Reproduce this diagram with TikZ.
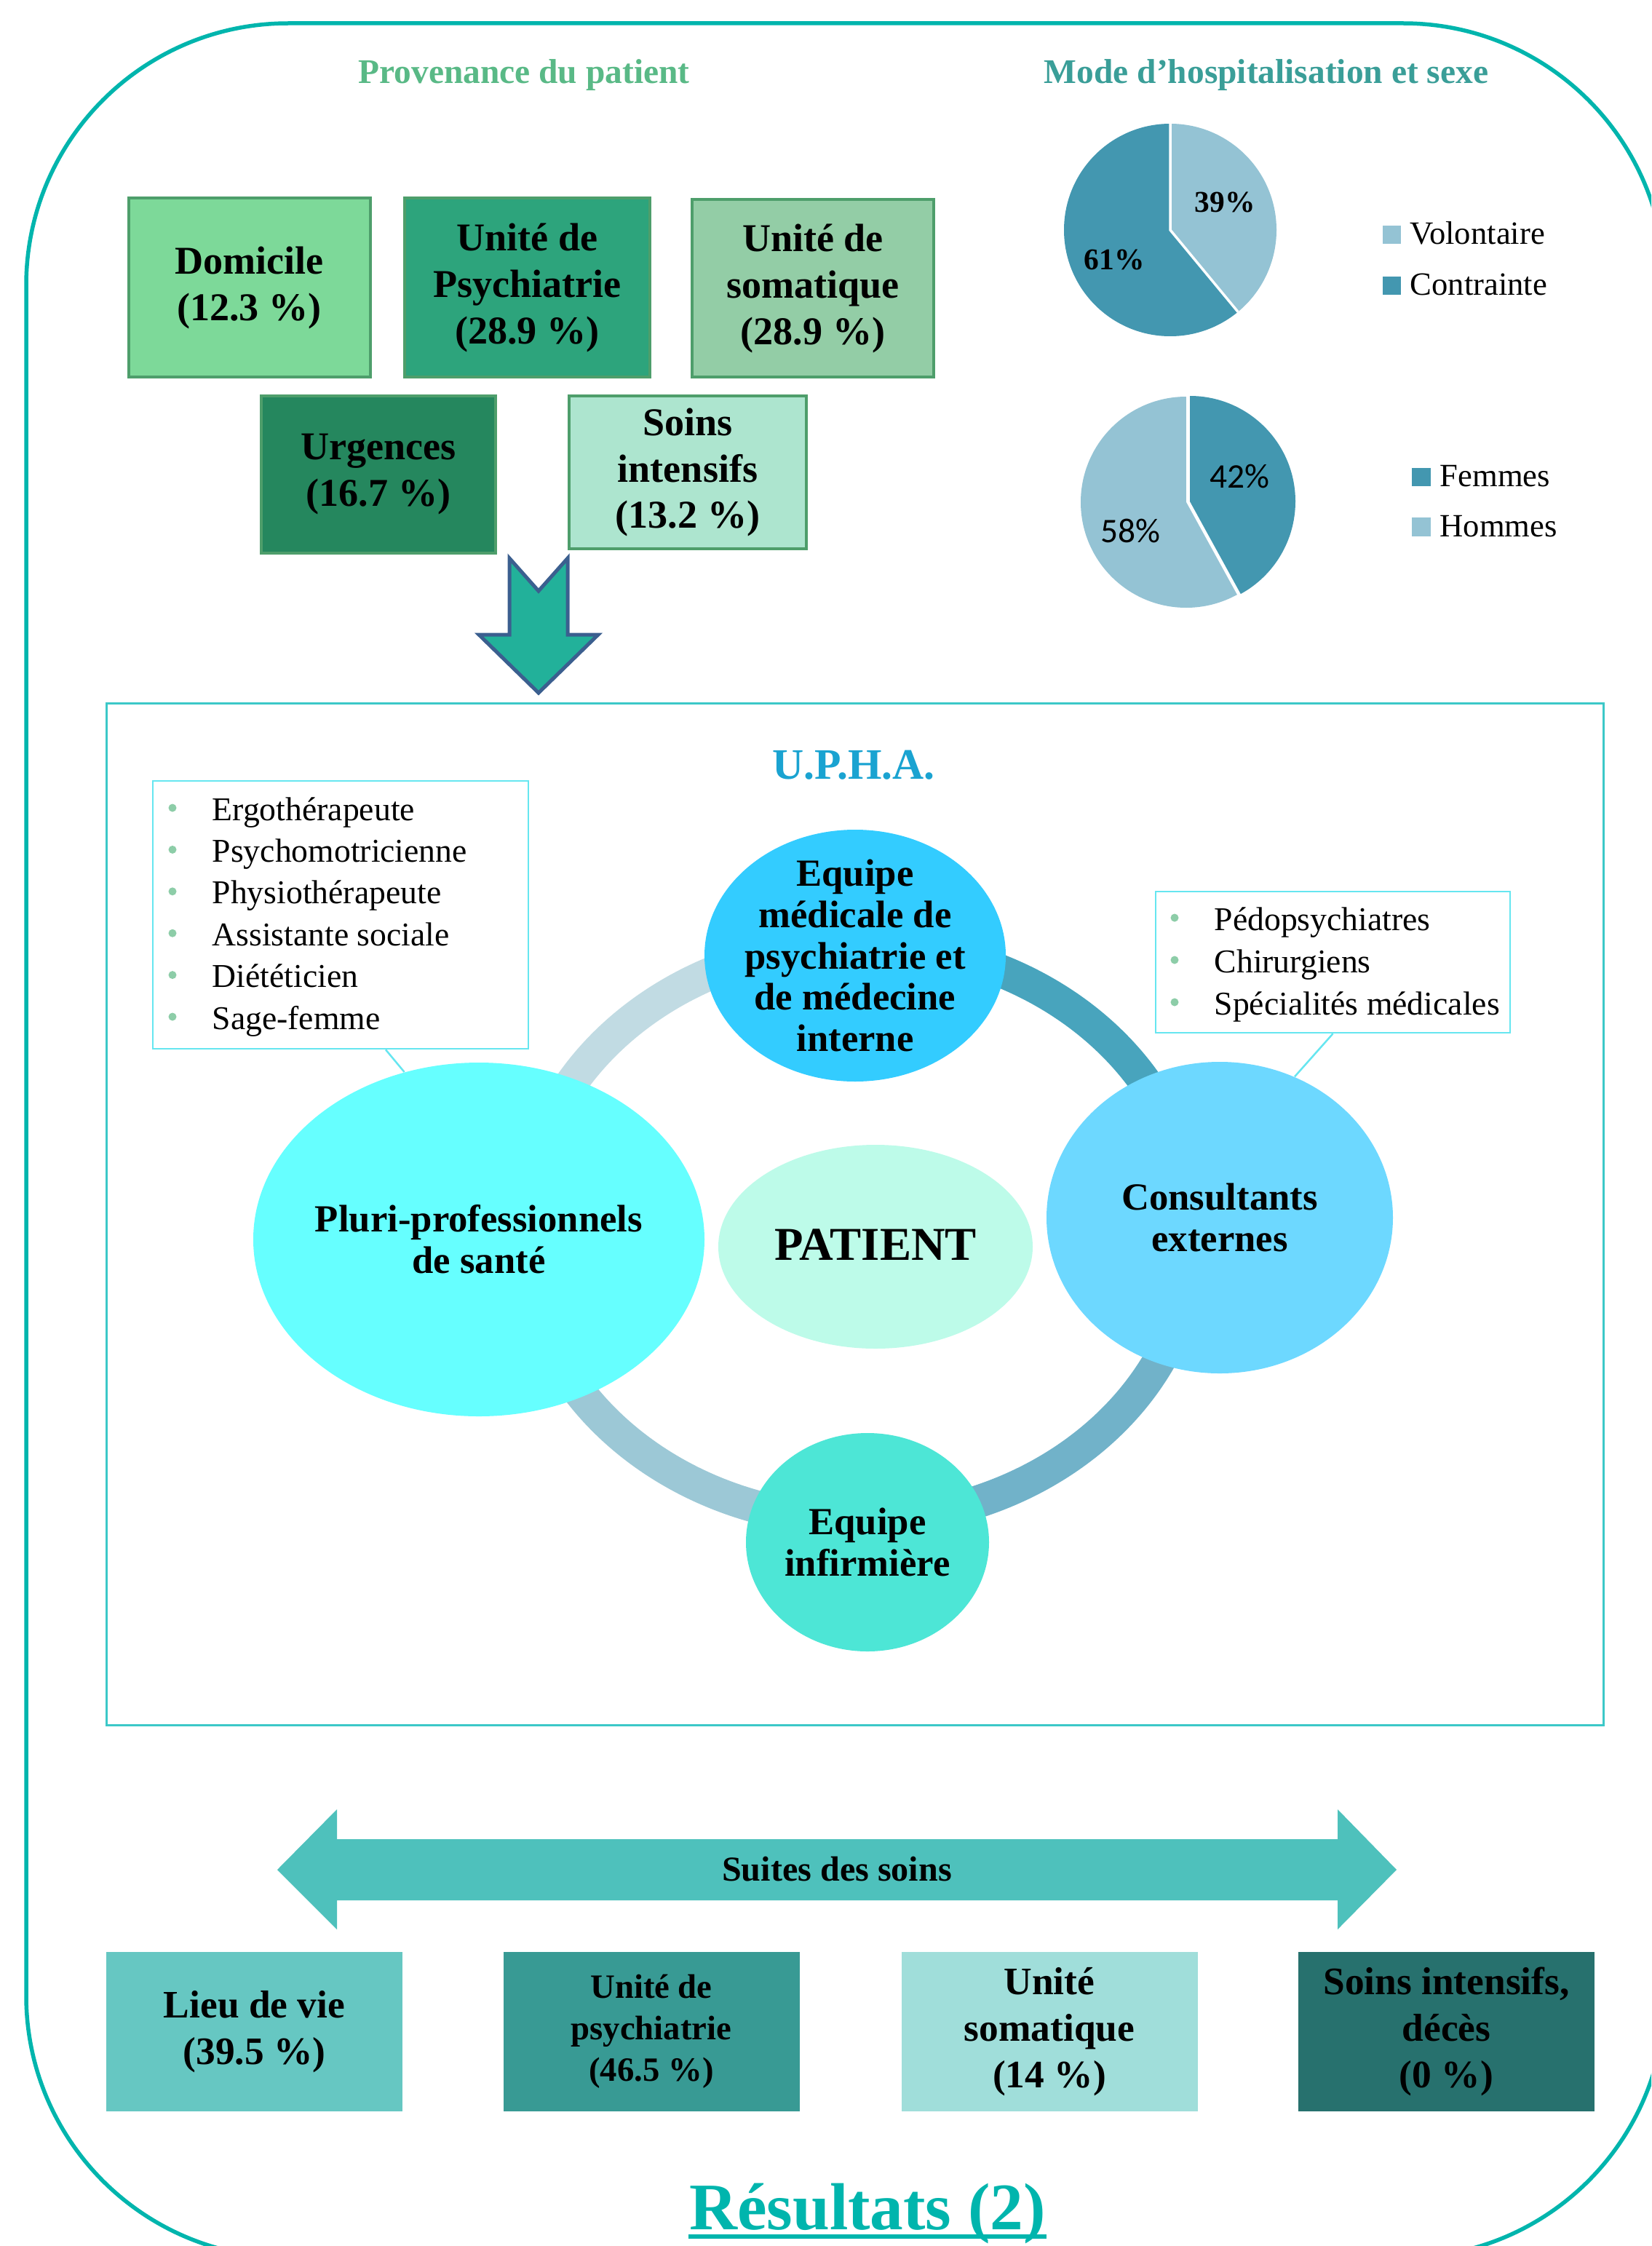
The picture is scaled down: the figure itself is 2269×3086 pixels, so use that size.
\documentclass[tikz,border=0pt]{standalone}
\usepackage{fontspec}
\setmainfont{Liberation Serif}
\newfontfamily\calfont{Carlito}
\usetikzlibrary{shapes.geometric}
\definecolor{framec}{HTML}{00B5AD}
\definecolor{titleG}{HTML}{59B986}
\definecolor{titleT}{HTML}{3A9E98}
\definecolor{srcborder}{HTML}{4E9E6B}
\definecolor{cDom}{HTML}{7DD999}
\definecolor{cPsy}{HTML}{2DA47C}
\definecolor{cSom}{HTML}{93CDA6}
\definecolor{cUrg}{HTML}{25875E}
\definecolor{cSoi}{HTML}{ADE5CF}
\definecolor{arrowfill}{HTML}{22B19A}
\definecolor{arrowborder}{HTML}{3B5F8F}
\definecolor{pieL}{HTML}{94C3D4}
\definecolor{pieD}{HTML}{4397B0}
\definecolor{uphaborder}{HTML}{3CC8C8}
\definecolor{uphatext}{HTML}{1AA3D1}
\definecolor{calloutc}{HTML}{66E6F0}
\definecolor{bulc}{HTML}{8DCDA8}
\definecolor{ringA}{HTML}{C1DBE3}
\definecolor{ringB}{HTML}{48A4BD}
\definecolor{ringC}{HTML}{71B2C9}
\definecolor{ringD}{HTML}{9CC8D6}
\definecolor{eTop}{HTML}{33CCFF}
\definecolor{eLeft}{HTML}{66FFFF}
\definecolor{eRight}{HTML}{6DD8FF}
\definecolor{eBot}{HTML}{4DE6D6}
\definecolor{ePat}{HTML}{BDFBE9}
\definecolor{darrow}{HTML}{4EC1BC}
\definecolor{oA}{HTML}{66C7C2}
\definecolor{oB}{HTML}{389A94}
\definecolor{oC}{HTML}{A0DEDA}
\definecolor{oD}{HTML}{27716E}
\begin{document}
\begin{tikzpicture}[x=0.1mm, y=0.1mm,
  srcbox/.style={draw=srcborder, line width=0.4mm, inner sep=0pt, align=center,
    font=\fontsize{15.4pt}{18.2pt}\selectfont\bfseries},
  outbox/.style={inner sep=0pt, align=center, minimum width=40.7mm, minimum height=21.9mm,
    font=\fontsize{15.2pt}{18.2pt}\selectfont\bfseries},
  blob/.style={ellipse, inner sep=0pt},
  etext/.style={align=center, inner sep=0pt, font=\fontsize{15pt}{16.2pt}\selectfont\bfseries},
  listbox/.style={draw=calloutc, line width=0.25mm, inner sep=0pt},
  litem/.style={anchor=base west, inner sep=0pt, font=\fontsize{13pt}{15pt}\selectfont},
  legtext/.style={anchor=base west, inner sep=0pt, font=\fontsize{12.7pt}{15pt}\selectfont},
  pielab/.style={anchor=base, inner sep=0pt, font=\fontsize{11.8pt}{14pt}\selectfont\bfseries},
  pielabs/.style={anchor=base, inner sep=0pt, font=\calfont\fontsize{13.5pt}{16pt}\selectfont},
  ringseg/.style={line width=4.5mm},
  title/.style={anchor=base, inner sep=0pt, font=\fontsize{13.5pt}{16pt}\selectfont\bfseries},
]
\useasboundingbox (0,0) rectangle (2269,-3086);
\clip (0,0) rectangle (2269,-3086);
\fill[white] (0,0) rectangle (2269,-3086);

% outer frame
\draw[framec, line width=0.55mm, rounded corners=36mm] (36,-32) rectangle (2288,-3102);

% titles
\node[title, text=titleG] (t1) at (720,-115) {Provenance du patient};
\node[title, text=titleT] (t2) at (1740,-115) {Mode d’hospitalisation et sexe};

% source boxes
\node[srcbox, fill=cDom, minimum width=33.2mm, minimum height=24.6mm] (dom) at (342.5,-395) {Domicile\\(12.3 \%)};
\node[srcbox, fill=cPsy, minimum width=33.7mm, minimum height=24.6mm] (psy) at (724.5,-395) {Unité de\\Psychiatrie\\(28.9 \%)};
\node[srcbox, fill=cSom, minimum width=33.2mm, minimum height=24.4mm] (som) at (1117,-396) {Unité de\\somatique\\(28.9 \%)};
\node[srcbox, fill=cUrg, minimum width=32.2mm, minimum height=21.6mm] (urg) at (520,-652) {Urgences\\(16.7 \%)};
\node[srcbox, fill=cSoi, minimum width=32.6mm, minimum height=21.0mm] (soi) at (945,-649) {Soins\\intensifs\\(13.2 \%)};

% down arrow
\draw[draw=arrowborder, fill=arrowfill, line width=0.5mm, line join=miter]
  (700,-767) -- (740,-812) -- (780,-767) -- (780,-872) -- (822,-872) -- (740,-952)
  -- (658,-872) -- (700,-872) -- cycle;

% pie 1
\fill[pieD] (1608,-316) -- (1608,-170) arc[start angle=90, end angle=309.6, radius=14.6mm] -- cycle;
\fill[pieL] (1608,-316) -- (1608,-170) arc[start angle=90, end angle=-50.4, radius=14.6mm] -- cycle;
\draw[white, line width=0.35mm] (1608,-170) -- (1608,-316) -- ++(-50.4:14.6mm);
\node[pielab] (p39) at (1683,-291) {39\%};
\node[pielab] (p61) at (1531,-370) {61\%};
\fill[pieL] (1900,-310) rectangle (1925,-335);
\fill[pieD] (1900,-380) rectangle (1925,-405);
\node[legtext] (lv) at (1937,-335) {Volontaire};
\node[legtext] (lc) at (1937,-405) {Contrainte};

% pie 2
\fill[pieL] (1630,-690) -- (1630,-545) arc[start angle=90, end angle=298.8, radius=14.5mm] -- cycle;
\begin{scope}[shift={(5,1)}]
\fill[pieD] (1630,-690) -- (1630,-545) arc[start angle=90, end angle=-61.2, radius=14.5mm] -- cycle;
\end{scope}
\draw[white, line width=0.35mm] (1632,-545) -- (1632,-690);
\node[pielabs] (p42) at (1703,-670) {42\%};
\node[pielabs] (p58) at (1553,-745) {58\%};
\fill[pieD] (1940,-643) rectangle (1966,-668);
\fill[pieL] (1940,-711) rectangle (1966,-737);
\node[legtext] (lf) at (1978,-668) {Femmes};
\node[legtext] (lh) at (1978,-737) {Hommes};

% UPHA box
\node[draw=uphaborder, line width=0.25mm, minimum width=205.7mm, minimum height=140.4mm, inner sep=0pt] (upha) at (1175,-1668.5) {};
\node[anchor=base, inner sep=0pt, text=uphatext, font=\fontsize{17pt}{20pt}\selectfont\bfseries] (uphat) at (1173,-1070) {U.P.H.A.};

% ring
\draw[ringseg, ringA] (1180,-1297) arc[start angle=90, end angle=180, x radius=46.1mm, y radius=39.6mm];
\draw[ringseg, ringB] (1641,-1693) arc[start angle=0, end angle=90, x radius=46.1mm, y radius=39.6mm];
\draw[ringseg, ringC] (1180,-2089) arc[start angle=-90, end angle=0, x radius=46.1mm, y radius=39.6mm];
\draw[ringseg, ringD] (719,-1693) arc[start angle=180, end angle=270, x radius=46.1mm, y radius=39.6mm];

% ellipses
\node[blob, fill=eTop, minimum width=41.4mm, minimum height=34.6mm] (etop) at (1175,-1313) {};
\node[etext] (etopt) at (etop.center) {Equipe\\médicale de\\psychiatrie et\\de médecine\\interne};
\node[blob, fill=eLeft, minimum width=62mm, minimum height=48.6mm] (pluri) at (658,-1703) {};
\node[etext] (plurit) at (pluri.center) {Pluri-professionnels\\de santé};
\node[blob, fill=eRight, minimum width=47.6mm, minimum height=42.8mm] (cons) at (1676,-1673) {};
\node[etext] (const) at (cons.center) {Consultants\\externes};
\node[blob, fill=eBot, minimum width=33.4mm, minimum height=30mm] (inf) at (1192,-2119) {};
\node[etext] (inft) at (inf.center) {Equipe\\infirmière};
\node[blob, fill=ePat, minimum width=43.2mm, minimum height=28mm] (pat) at (1203,-1713) {};
\node[inner sep=0pt, font=\fontsize{18.4pt}{20pt}\selectfont\bfseries] (patt) at (1203,-1710) {PATIENT};

% left callout
\node[listbox, minimum width=51.6mm, minimum height=36.8mm] (lbox) at (468,-1257) {};
\foreach \t [count=\i from 0] in {Ergothérapeute,Psychomotricienne,Physiothérapeute,Assistante sociale,Diététicien,Sage-femme}{
  \fill[bulc] (237,{-1110-57.4*\i}) circle[radius=0.55mm];
  \node[litem] (li\i) at (291,{-1127-57.4*\i}) {\t};
}
\draw[calloutc, line width=0.25mm] ([xshift=6.2mm]lbox.south) -- (pluri.114);

% right callout
\node[listbox, minimum width=48.7mm, minimum height=19.4mm] (rbox) at (1831.5,-1322) {};
\foreach \t [count=\i from 0] in {Pédopsychiatres,Chirurgiens,Spécialités médicales}{
  \fill[bulc] (1614,{-1261-58*\i}) circle[radius=0.55mm];
  \node[litem] (ri\i) at (1668,{-1278-58*\i}) {\t};
}
\draw[calloutc, line width=0.25mm] (rbox.south) -- (cons.62);

% double arrow
\fill[darrow] (381,-2569) -- (463,-2486) -- (463,-2527) -- (1838,-2527) -- (1838,-2486)
  -- (1919,-2569) -- (1838,-2651) -- (1838,-2611) -- (463,-2611) -- (463,-2651) -- cycle;
\node[anchor=base, inner sep=0pt, font=\fontsize{13.7pt}{16pt}\selectfont\bfseries] (suites) at (1150,-2584) {Suites des soins};

% outcome boxes
\node[outbox, fill=oA] (o1) at (349.5,-2791.5) {Lieu de vie\\(39.5 \%)};
\node[outbox, fill=oB, font=\fontsize{13.3pt}{16.2pt}\selectfont\bfseries] (o2) at (895,-2791.5) {Unité de\\psychiatrie\\(46.5 \%)};
\node[outbox, fill=oC] (o3) at (1442,-2791.5) {Unité\\somatique\\(14 \%)};
\node[outbox, fill=oD] (o4) at (1987.5,-2791.5) {Soins intensifs,\\décès\\(0 \%)};

% title
\node[anchor=base, inner sep=0pt, text=framec, font=\fontsize{26pt}{30pt}\selectfont\bfseries] (res) at (1192,-3063) {Résultats (2)};
\draw[framec, line width=0.6mm] ([yshift=-1mm]res.base west) -- ([yshift=-1mm]res.base east);
\end{tikzpicture}
\end{document}
